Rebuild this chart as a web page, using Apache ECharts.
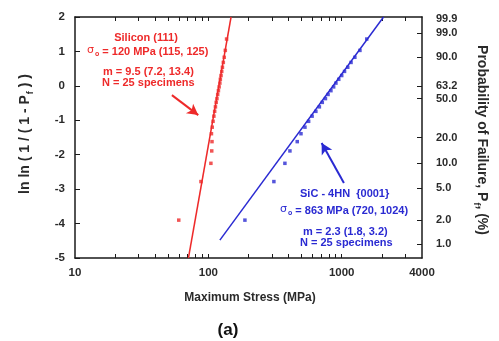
<!DOCTYPE html>
<html><head><meta charset="utf-8">
<script src="https://cdn.jsdelivr.net/npm/echarts@6/dist/echarts.min.js"></script>
<style>html,body{margin:0;padding:0;background:#fff}#c{width:499px;height:341px}</style>
</head><body><div id="c"></div>
<script>
// Weibull plotting positions (ln ln (1/(1-Pf))) for 25 specimens, rank order
const rankLnLn = [-3.90, -2.78, -2.25, -1.89, -1.62, -1.39, -1.20, -1.03, -0.88, -0.74, -0.61, -0.48, -0.37, -0.25, -0.14, -0.03, 0.08, 0.19, 0.30, 0.42, 0.54, 0.68, 0.83, 1.03, 1.36];
// Silicon {111} fracture stresses (MPa)
const siStress = [60, 88, 104.5, 106, 106.5, 105.5, 107, 108.5, 110, 111.5, 113, 114.5, 116, 117.5, 119, 120.5, 122, 123, 124.5, 126, 127.5, 129.5, 131.5, 134, 137];
// SiC-4HN {0001} fracture stresses (MPa)
const sicStress = [188, 310, 375, 409, 464, 495, 530, 565, 600, 640, 680, 715, 755, 790, 830, 870, 905, 950, 1000, 1050, 1110, 1175, 1255, 1370, 1540];
// Weibull fit lines (stress, lnln)
const siFit = [[70.9, -5], [148, 2]];
const sicFit = [[122, -4.48], [2059, 2]];
// Axis ticks
const xTickVals = [20,30,40,50,60,70,80,90,100,200,300,400,500,600,700,800,900,1000,2000,3000];
const xLabelVals = [10, 100, 1000, 4000];
const probLabels = ['99.9','99.0','90.0','63.2','50.0','20.0','10.0','5.0','2.0','1.0'];
const probPos = probLabels.map(p => Math.log(-Math.log(1 - parseFloat(p) / 100)));

const RED = '#ee2a2a', BLUE = '#2a2ad2', AX = '#1a1a1a', TXT = '#2a2a2a';
const FF = '"Liberation Sans", Arial, sans-serif';

const chart = echarts.init(document.getElementById('c'), null, {renderer: 'canvas'});
const axLine = {show: true, onZero: false, lineStyle: {color: AX, width: 1.5}};
const tickStyle = {color: AX, width: 1};
const pt = (xs, ys) => xs.map((x, i) => [x, ys[i]]);

const richSub = (size, col) => ({
  b: {fontSize: size, fontWeight: 'bold', color: col, fontFamily: FF, lineHeight: size + 4, verticalAlign: 'top'},
  s: {fontSize: Math.round(size * 0.65), fontWeight: 'bold', color: col, fontFamily: FF, lineHeight: size + 4, padding: [Math.round(size*0.55), 0, 0, 1], verticalAlign: 'top'},
  g: {fontSize: size, color: col, fontFamily: 'DejaVu Sans', lineHeight: size + 4, verticalAlign: 'top'}
});

function txt(x, y, text, col, size, align, extra) {
  return Object.assign({
    type: 'text', x: x, y: y, z: 100,
    style: {text: text, fill: col, font: 'bold ' + size + 'px ' + FF, align: align || 'left', verticalAlign: 'middle', rich: richSub(size, col)}
  }, extra || {});
}

const option = {
  animation: false,
  backgroundColor: '#fff',
  grid: {left: 75, right: 77, top: 17, bottom: 83, containLabel: false},
  xAxis: [
    {type: 'log', logBase: 10, min: 10, max: 4000, position: 'bottom',
     axisLine: axLine,
     axisTick: {show: true, inside: true, length: 4, customValues: xTickVals, lineStyle: tickStyle},
     axisLabel: {customValues: xLabelVals, color: TXT, fontWeight: 'bold', fontSize: 11.5, fontFamily: FF, margin: 9,
       formatter: v => String(Math.round(v))},
     splitLine: {show: false}, minorTick: {show: false}},
    {type: 'log', logBase: 10, min: 10, max: 4000, position: 'top',
     axisLine: axLine,
     axisTick: {show: true, inside: true, length: 4, customValues: xTickVals, lineStyle: tickStyle},
     axisLabel: {show: false}, splitLine: {show: false}}
  ],
  yAxis: [
    {type: 'value', min: -5, max: 2, interval: 1, position: 'left',
     axisLine: axLine,
     axisTick: {show: true, inside: true, length: 5, lineStyle: tickStyle},
     axisLabel: {color: TXT, fontWeight: 'bold', fontSize: 11.5, fontFamily: FF, margin: 10},
     splitLine: {show: false}},
    {type: 'value', min: -5, max: 2, position: 'right',
     axisLine: axLine,
     axisTick: {show: true, inside: true, length: 5, customValues: probPos.filter(v => v < 1.9), lineStyle: tickStyle},
     axisLabel: {customValues: probPos, color: TXT, fontWeight: 'bold', fontSize: 11, fontFamily: FF, margin: 14,
       formatter: function (v) {
         let best = 0, d = 1e9;
         probPos.forEach((p, i) => { if (Math.abs(p - v) < d) { d = Math.abs(p - v); best = i; } });
         return probLabels[best];
       }},
     splitLine: {show: false}}
  ],
  series: [
    {type: 'line', data: siFit, symbol: 'none', lineStyle: {color: RED, width: 1.5}, z: 3,
     markLine: {silent: true, symbol: ['none', 'arrow'], symbolSize: [9, 11], label: {show: false},
       lineStyle: {color: RED, width: 2, type: 'solid'},
       data: [[{coord: [53.3, -0.27]}, {coord: [84, -0.85]}]]}},
    {type: 'line', data: sicFit, symbol: 'none', lineStyle: {color: BLUE, width: 1.5}, z: 3,
     markLine: {silent: true, symbol: ['none', 'arrow'], symbolSize: [9, 11], label: {show: false},
       lineStyle: {color: BLUE, width: 2, type: 'solid'},
       data: [[{coord: [1039, -2.82]}, {coord: [707, -1.66]}]]}},
    {type: 'scatter', data: pt(siStress, rankLnLn), symbol: 'rect', symbolSize: 3.5, itemStyle: {color: RED}, z: 4},
    {type: 'scatter', data: pt(sicStress, rankLnLn), symbol: 'rect', symbolSize: 3.5, itemStyle: {color: BLUE}, z: 4}
  ],
  graphic: [
    txt(146, 38, 'Silicon (111)', RED, 11, 'center'),
    txt(87, 52, '{g|σ}{s|o} = 120 MPa (115, 125)', RED, 11, 'left'),
    txt(103, 72, 'm = 9.5 (7.2, 13.4)', RED, 11, 'left'),
    txt(102, 83, 'N = 25 specimens', RED, 11, 'left'),
    txt(300, 194, 'SiC - 4HN  {0001}', BLUE, 11, 'left'),
    txt(280, 211, '{g|σ}{s|o} = 863 MPa (720, 1024)', BLUE, 11, 'left'),
    txt(303, 232, 'm = 2.3 (1.8, 3.2)', BLUE, 11, 'left'),
    txt(300, 243, 'N = 25 specimens', BLUE, 11, 'left'),
    txt(27, 134, '{b|ln ln ( 1 / ( 1 - P}{s|f}{b| ) )}', TXT, 14, 'center', {rotation: Math.PI / 2}),
    txt(480, 140, '{b|Probability of Failure, P}{s|f}{b|, (%)}', TXT, 14, 'center', {rotation: -Math.PI / 2}),
    txt(250, 298, 'Maximum Stress (MPa)', TXT, 12, 'center'),
    txt(228, 330, '(a)', '#111', 17, 'center')
  ]
};
chart.setOption(option);
</script>
</body></html>
